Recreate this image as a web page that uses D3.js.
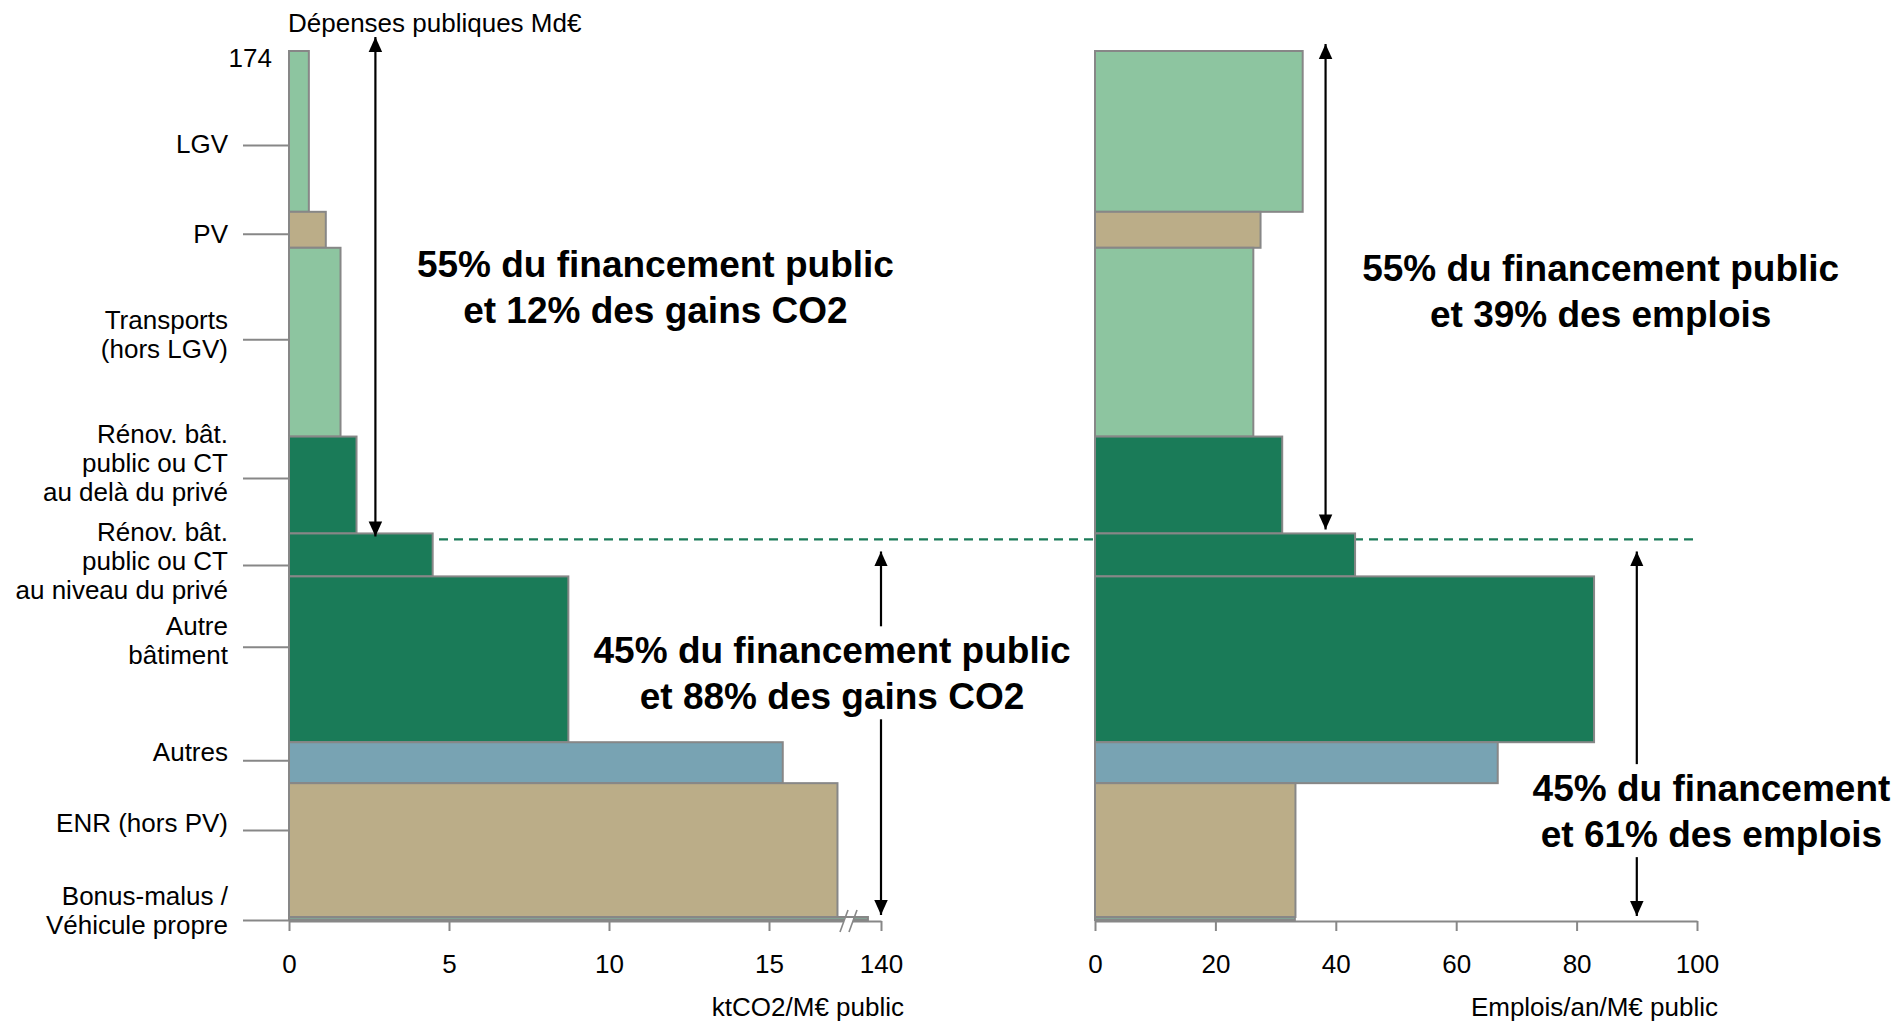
<!DOCTYPE html>
<html><head><meta charset="utf-8">
<script src="https://cdn.jsdelivr.net/npm/d3@7"></script>
<style>
body{margin:0;background:#fff}
text{font-family:"Liberation Sans",Arial,sans-serif;fill:#000}
</style>
</head><body>
<svg id="c" width="1900" height="1022"></svg>
<script>
// ---------- DATA ----------
const categories = ["LGV","PV","Transports (hors LGV)","Rénov. bât. public ou CT au delà du privé","Rénov. bât. public ou CT au niveau du privé","Autre bâtiment","Autres","ENR (hors PV)","Bonus-malus / Véhicule propre"];
const labelLines = [["LGV"],["PV"],["Transports","(hors LGV)"],["Rénov. bât.","public ou CT","au delà du privé"],["Rénov. bât.","public ou CT","au niveau du privé"],["Autre","bâtiment"],["Autres"],["ENR (hors PV)"],["Bonus-malus /","Véhicule propre"]];
const groups = ["transport","energie","transport","batiment","batiment","batiment","autres","energie","vehicule"];
const spending = [32.2,7.2,37.8,19.4,8.6,33.2,8.2,26.8,0.6];      // Md€ (bar heights)
const co2 = [0.62,1.15,1.61,2.11,4.49,8.73,15.43,17.14,90];       // ktCO2/M€ public
const jobs = [34.5,27.5,26.3,31.1,43.2,82.9,66.9,33.3,33.2];      // Emplois/an/M€ public
const labelTicks = [155.2,137.4,116.3,88.5,71.1,54.7,32.0,18.0,0]; // Md€ positions of category ticks
const labelCenters = [155.4,137.3,117.3,91.5,71.9,55.9,33.6,19.4,2.0]; // Md€ positions of label text
const co2Ticks = [0,5,10,15,140];
const jobsTicks = [0,20,40,60,80,100];
const totalSpending = 174;
const splitLevel = 76.2;
const annotations = [
  {chart:"L", x:11.45, y:128.8, lines:["55% du financement public","et 12% des gains CO2"]},
  {chart:"R", x:84.0, y:128.0, lines:["55% du financement public","et 39% des emplois"]},
  {chart:"L", x:16.97, y:51.4, lines:["45% du financement public","et 88% des gains CO2"]},
  {chart:"R", x:102.4, y:23.8, lines:["45% du financement","et 61% des emplois"]}
];

// ---------- STYLE ----------
const colorMap = {transport:"#8DC5A0", energie:"#BBAD88", batiment:"#1A7B58", autres:"#78A3B3", vehicule:"#84A294"};
const grey = "#878787";

// ---------- SCALES ----------
const svg = d3.select("#c");
const y = d3.scaleLinear().domain([0, totalSpending]).range([920, 51]);
const xL = d3.scaleLinear().domain([0, 17.5, 140]).range([289, 849, 881]);
const xR = d3.scaleLinear().domain([0, 100]).range([1095, 1697]);

const rows = categories.map((c,i)=>{
  const base = d3.sum(spending.slice(i+1));
  return {c, i, base, top: base + spending[i], group: groups[i], co2: co2[i], jobs: jobs[i]};
});

// ---------- DASHED SPLIT LINE ----------
svg.append("line")
  .attr("x1", xL(0)).attr("x2", xR(99.5))
  .attr("y1", y(splitLevel)).attr("y2", y(splitLevel))
  .attr("stroke", "#1A7B58").attr("stroke-width", 2.2).attr("stroke-dasharray", "9,6");

// ---------- BARS ----------
function drawBars(scale, key){
  svg.append("g").selectAll("rect").data(rows).join("rect")
    .attr("x", scale(0))
    .attr("y", d=>y(d.top))
    .attr("width", d=>scale(d[key]) - scale(0))
    .attr("height", d=>y(d.base) - y(d.top))
    .attr("fill", d=>colorMap[d.group])
    .attr("stroke", grey).attr("stroke-width", 2);
}
drawBars(xL, "co2");
drawBars(xR, "jobs");

// ---------- AXES ----------
function styleAxis(g){
  g.selectAll("path.domain").attr("stroke", grey).attr("stroke-width", 2);
  g.selectAll(".tick line").attr("stroke", grey).attr("stroke-width", 2);
  g.selectAll(".tick text").attr("font-size", 26).attr("font-family", '"Liberation Sans",Arial,sans-serif');
}
const gxL = svg.append("g").attr("transform", `translate(0,${y(0)+1})`)
  .call(d3.axisBottom(xL).tickValues(co2Ticks).tickSize(10).tickPadding(24).tickSizeOuter(0));
styleAxis(gxL);
const gxR = svg.append("g").attr("transform", `translate(0,${y(0)+1})`)
  .call(d3.axisBottom(xR).tickValues(jobsTicks).tickSize(10).tickPadding(24).tickSizeOuter(0));
styleAxis(gxR);

// axis break marks on left axis
const bx = xL(17.5);
svg.append("rect").attr("x", bx-5).attr("y", y(0)-2).attr("width", 9).attr("height", 6).attr("fill", "#fff");
[-5, 4].forEach(o=>{
  svg.append("line").attr("x1", bx+o-4).attr("y1", y(0)+12).attr("x2", bx+o+4).attr("y2", y(0)-10)
    .attr("stroke", grey).attr("stroke-width", 1.6);
});

// left category axis (tick lines)
const gyL = svg.append("g").attr("transform", `translate(${xL(0)},0)`)
  .call(d3.axisLeft(y).tickValues(labelTicks).tickSize(46).tickFormat(""));
gyL.select("path.domain").remove();
gyL.selectAll(".tick line").attr("stroke", grey).attr("stroke-width", 2);

// category labels
const lh = 29;
labelCenters.forEach((t,i)=>{
  const lines = labelLines[i];
  const cy = y(t);
  const first = cy - (lines.length-1)*lh/2 + 9;
  const tx = svg.append("text").attr("text-anchor","end").attr("font-size",26);
  lines.forEach((l,k)=>tx.append("tspan").attr("x", 228).attr("y", first + k*lh).text(l));
});
svg.append("text").attr("x", 272).attr("y", y(totalSpending)+16).attr("text-anchor","end")
  .attr("font-size",26).text(String(totalSpending));

// axis titles
svg.append("text").attr("x", xL(0)-1).attr("y", 32).attr("font-size",26).text("Dépenses publiques Md€");
svg.append("text").attr("x", xL(140)+23).attr("y", 1016).attr("text-anchor","end").attr("font-size",26).text("ktCO2/M€ public");
svg.append("text").attr("x", xR(100)+21).attr("y", 1016).attr("text-anchor","end").attr("font-size",26).text("Emplois/an/M€ public");

// ---------- ARROWS ----------
const defs = svg.append("defs");
defs.append("marker").attr("id","ah").attr("viewBox","0 0 10 10").attr("refX",10).attr("refY",5)
  .attr("markerWidth",15).attr("markerHeight",15).attr("markerUnits","userSpaceOnUse")
  .attr("orient","auto-start-reverse")
  .append("path").attr("d","M0,0.5 L10,5 L0,9.5 z").attr("fill","#000");
function arrow(x, y1, y2){
  svg.append("line").attr("x1",x).attr("x2",x).attr("y1",y1).attr("y2",y2)
    .attr("stroke","#000").attr("stroke-width",2.2)
    .attr("marker-end","url(#ah)").attr("marker-start","url(#ah)");
}
arrow(xL(2.7), y(totalSpending)-14, y(splitLevel+1.2)+3);
arrow(xL(140), y(splitLevel)+12, y(0)-5);
arrow(xR(38.3), y(totalSpending)-7, y(splitLevel+1.2)-4);
arrow(xR(90), y(splitLevel)+12, y(0)-4);

// ---------- ANNOTATIONS ----------
annotations.forEach(a=>{
  const sx = a.chart==="L" ? xL : xR;
  const g = svg.append("g");
  const bg = g.append("rect").attr("fill","#fff");
  const t = g.append("text").attr("text-anchor","middle").attr("font-size",37).attr("font-weight","bold");
  a.lines.forEach((l,k)=>t.append("tspan").attr("x", sx(a.x)).attr("y", y(a.y) + k*46).text(l));
  const b = t.node().getBBox();
  bg.attr("x", b.x).attr("y", b.y-4).attr("width", b.width).attr("height", b.height+6);
});
</script>
</body></html>
